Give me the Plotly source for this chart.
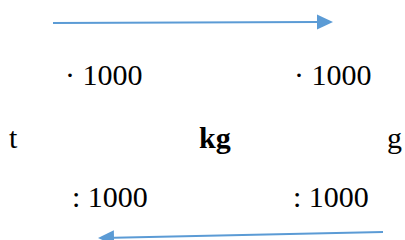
import plotly.graph_objects as go
import math

# Diagram content
units = ["t", "kg", "g"]
unit_bold = [False, True, False]
unit_x = [13.5, 215, 394]
unit_y = 137

mult_labels = ["· 1000", "· 1000"]
mult_x = [104, 333]
mult_y = 74

div_labels = [": 1000", ": 1000"]
div_x = [110, 331]
div_y = 196.5

# arrows: (x0, y0, x1, y1) tail -> tip
arrows = [(53, 23, 333, 22), (383, 232, 98, 238)]

ARROW_COLOR = "#5B9BD5"
FONT = "Liberation Serif"
FS = 30

fig = go.Figure()
ann = []
for t, b, x in zip(units, unit_bold, unit_x):
    ann.append(dict(x=x, y=unit_y, text=f"<b>{t}</b>" if b else t, showarrow=False,
                    xanchor="center", yanchor="middle",
                    font=dict(family=FONT, size=FS, color="black")))
for t, x in zip(mult_labels, mult_x):
    ann.append(dict(x=x, y=mult_y, text=t, showarrow=False, xanchor="center", yanchor="middle",
                    font=dict(family=FONT, size=FS, color="black")))
for t, x in zip(div_labels, div_x):
    ann.append(dict(x=x, y=div_y, text=t, showarrow=False, xanchor="center", yanchor="middle",
                    font=dict(family=FONT, size=FS, color="black")))

shapes = []
for (x0, y0, x1, y1) in arrows:
    L = math.hypot(x1 - x0, y1 - y0)
    ux, uy = (x1 - x0) / L, (y1 - y0) / L
    hl, hw = 16, 7.5
    bx, by = x1 - ux * hl, y1 - uy * hl
    px, py = -uy, ux
    shapes.append(dict(type="line", x0=x0, y0=y0, x1=bx, y1=by,
                       line=dict(color=ARROW_COLOR, width=2)))
    path = (f"M {x1},{y1} L {bx + px*hw},{by + py*hw} L {bx - px*hw},{by - py*hw} Z")
    shapes.append(dict(type="path", path=path, fillcolor=ARROW_COLOR,
                       line=dict(color=ARROW_COLOR, width=0)))

fig.update_layout(
    width=405, height=240, margin=dict(l=0, r=0, t=0, b=0),
    paper_bgcolor="white", plot_bgcolor="white",
    xaxis=dict(range=[0, 405], visible=False, fixedrange=True),
    yaxis=dict(range=[240, 0], visible=False, fixedrange=True),
    annotations=ann, shapes=shapes, showlegend=False,
)
fig.write_html("out.html", config={"displayModeBar": False},
               post_script="document.body.style.margin='0';document.body.style.overflow='hidden';")
